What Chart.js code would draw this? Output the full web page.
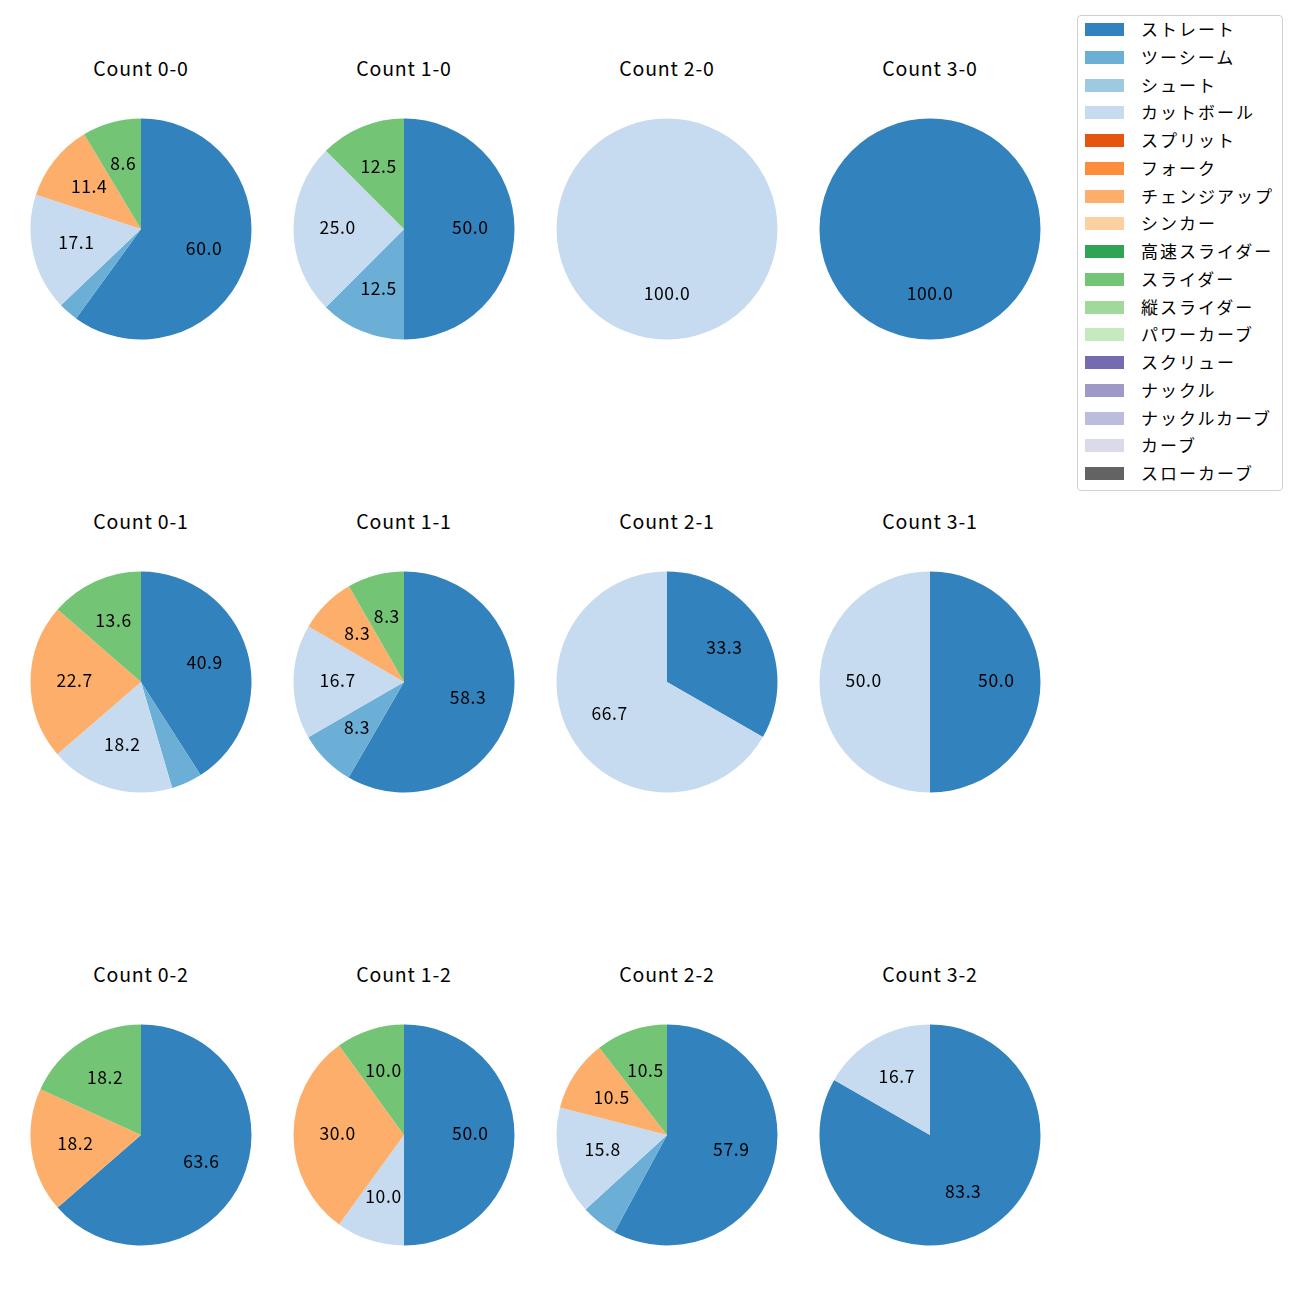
<!DOCTYPE html>
<html>
<head>
<meta charset="utf-8">
<script src="https://cdn.jsdelivr.net/npm/chart.js@4.4.1/dist/chart.umd.min.js"></script>
<style>
  body { margin: 0; background: #fff; font-family: "Noto Sans CJK JP", "Noto Sans", sans-serif; }
  #wrap { position: relative; width: 1300px; height: 1300px; }
  .pie { position: absolute; width: 240px; height: 240px; }
  .title { position: absolute; width: 240px; text-align: center; font-size: 19.5px; letter-spacing: 0.8px;
           color: #000; line-height: 24px; }
  #legend { position: absolute; left: 1077px; top: 15px; width: 204px; height: 474px;
            border: 1px solid #d0d0d0; border-radius: 4px; background: #fff; }
  .item { position: absolute; left: 7px; height: 20px; font-size: 17px; letter-spacing: 2px;
          line-height: 20px; color: #000; }
  .patch { position: absolute; left: 0; top: 4px; width: 39px; height: 13px; }
  .item span { position: absolute; left: 56px; white-space: nowrap; }
</style>
</head>
<body>
<div id="wrap"><div id="legend"></div></div>
<script>
// pitch types and their colours (tab20c)
const pitchTypes = ['ストレート', 'ツーシーム', 'シュート', 'カットボール', 'スプリット', 'フォーク',
  'チェンジアップ', 'シンカー', '高速スライダー', 'スライダー', '縦スライダー', 'パワーカーブ',
  'スクリュー', 'ナックル', 'ナックルカーブ', 'カーブ', 'スローカーブ'];
const pitchColors = ['#3182bd', '#6baed6', '#9ecae1', '#c6dbef', '#e6550d', '#fd8d3c',
  '#fdae6b', '#fdd0a2', '#31a354', '#74c476', '#a1d99b', '#c7e9c0',
  '#756bb1', '#9e9ac8', '#bcbddc', '#dadaeb', '#636363'];

// percentages per count, in pitchTypes order
const count00 = [60.0, 2.9, 0, 17.1, 0, 0, 11.4, 0, 0, 8.6, 0, 0, 0, 0, 0, 0, 0];
const count10 = [50.0, 12.5, 0, 25.0, 0, 0, 0, 0, 0, 12.5, 0, 0, 0, 0, 0, 0, 0];
const count20 = [0, 0, 0, 100.0, 0, 0, 0, 0, 0, 0, 0, 0, 0, 0, 0, 0, 0];
const count30 = [100.0, 0, 0, 0, 0, 0, 0, 0, 0, 0, 0, 0, 0, 0, 0, 0, 0];
const count01 = [40.9, 4.5, 0, 18.2, 0, 0, 22.7, 0, 0, 13.6, 0, 0, 0, 0, 0, 0, 0];
const count11 = [58.3, 8.3, 0, 16.7, 0, 0, 8.3, 0, 0, 8.3, 0, 0, 0, 0, 0, 0, 0];
const count21 = [33.3, 0, 0, 66.7, 0, 0, 0, 0, 0, 0, 0, 0, 0, 0, 0, 0, 0];
const count31 = [50.0, 0, 0, 50.0, 0, 0, 0, 0, 0, 0, 0, 0, 0, 0, 0, 0, 0];
const count02 = [63.6, 0, 0, 0, 0, 0, 18.2, 0, 0, 18.2, 0, 0, 0, 0, 0, 0, 0];
const count12 = [50.0, 0, 0, 10.0, 0, 0, 30.0, 0, 0, 10.0, 0, 0, 0, 0, 0, 0, 0];
const count22 = [57.9, 5.3, 0, 15.8, 0, 0, 10.5, 0, 0, 10.5, 0, 0, 0, 0, 0, 0, 0];
const count32 = [83.3, 0, 0, 16.7, 0, 0, 0, 0, 0, 0, 0, 0, 0, 0, 0, 0, 0];

const countTitles = [
  ['Count 0-0', 'Count 1-0', 'Count 2-0', 'Count 3-0'],
  ['Count 0-1', 'Count 1-1', 'Count 2-1', 'Count 3-1'],
  ['Count 0-2', 'Count 1-2', 'Count 2-2', 'Count 3-2']
];
const countData = [
  [count00, count10, count20, count30],
  [count01, count11, count21, count31],
  [count02, count12, count22, count32]
];

const colX = [141, 404, 667, 930];
const rowY = [229, 681.5, 1134.5];

// percent labels inside the slices (pctdistance 0.6), small slices left unlabelled
const pctLabels = {
  id: 'pctLabels',
  afterDatasetsDraw(chart) {
    const ctx = chart.ctx;
    const data = chart.data.datasets[0].data;
    ctx.save();
    ctx.font = '17.5px "Noto Sans CJK JP", sans-serif';
    ctx.letterSpacing = '0.6px';
    ctx.fillStyle = '#000';
    ctx.textAlign = 'center';
    ctx.textBaseline = 'middle';
    chart.getDatasetMeta(0).data.forEach((arc, i) => {
      if (data[i] < 6) return;
      const p = arc.getProps(['x', 'y', 'startAngle', 'endAngle', 'outerRadius'], true);
      const mid = (p.startAngle + p.endAngle) / 2;
      const r = p.outerRadius * 0.6;
      ctx.fillText(data[i].toFixed(1), p.x + Math.cos(mid) * r, p.y + Math.sin(mid) * r - 1.5);
    });
    ctx.restore();
  }
};

const wrap = document.getElementById('wrap');

countData.forEach((row, ri) => {
  row.forEach((values, ci) => {
    const cx = colX[ci], cy = rowY[ri];

    const title = document.createElement('div');
    title.className = 'title';
    title.style.left = (cx - 120) + 'px';
    title.style.top = (cy - 173) + 'px';
    title.textContent = countTitles[ri][ci];
    wrap.appendChild(title);

    const canvas = document.createElement('canvas');
    canvas.className = 'pie';
    canvas.width = 240;
    canvas.height = 240;
    canvas.style.left = (cx - 120) + 'px';
    canvas.style.top = (cy - 120) + 'px';
    wrap.appendChild(canvas);

    new Chart(canvas.getContext('2d'), {
      type: 'pie',
      data: {
        labels: pitchTypes,
        datasets: [{
          data: values,
          backgroundColor: pitchColors,
          borderWidth: 0
        }]
      },
      options: {
        responsive: false,
        animation: false,
        radius: 110.5,
        layout: { padding: 0 },
        plugins: {
          legend: { display: false },
          tooltip: { enabled: false }
        }
      },
      plugins: [pctLabels]
    });
  });
});

// legend
const legend = document.getElementById('legend');
pitchTypes.forEach((name, i) => {
  const item = document.createElement('div');
  item.className = 'item';
  item.style.top = (3 + i * 27.75) + 'px';
  const patch = document.createElement('div');
  patch.className = 'patch';
  patch.style.background = pitchColors[i];
  const label = document.createElement('span');
  label.textContent = name;
  item.appendChild(patch);
  item.appendChild(label);
  legend.appendChild(item);
});
</script>
</body>
</html>
